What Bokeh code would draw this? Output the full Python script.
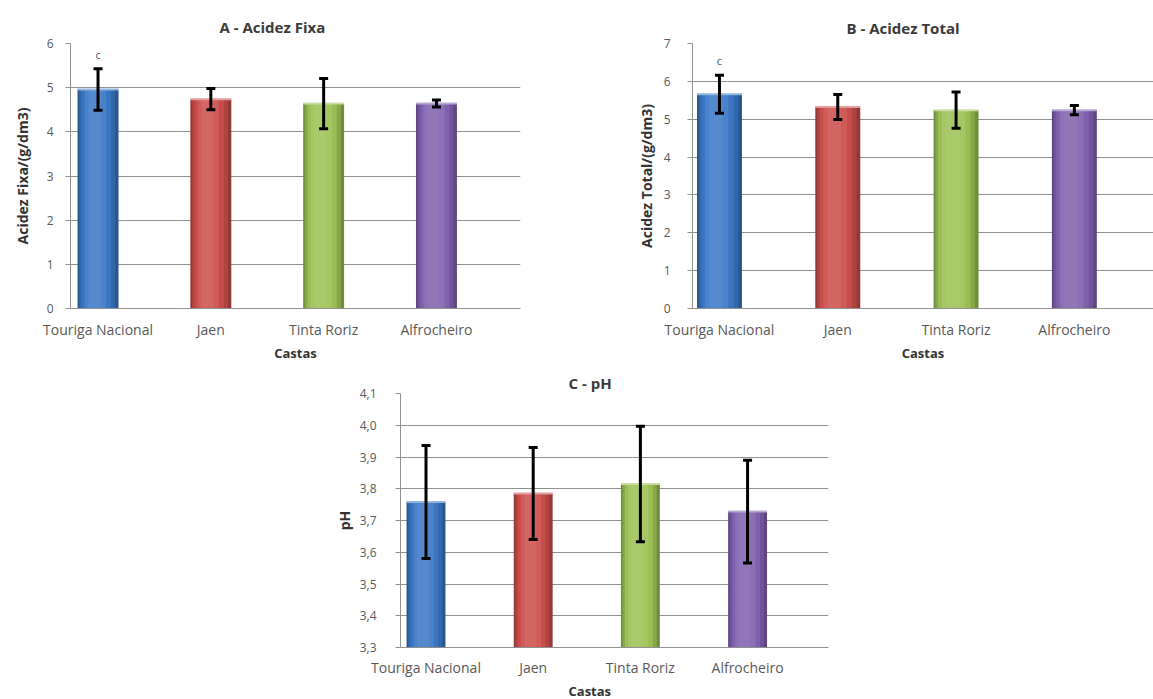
from bokeh.plotting import figure
from bokeh.models import (FixedTicker, Whisker, TeeHead, ColumnDataSource, Title,
                          CustomJSTickFormatter, Spacer)
from bokeh.layouts import row, column
from bokeh.embed import file_html
from bokeh.resources import INLINE
from bokeh.core.properties import value

# Grape varieties (castas) and their bar colours
castas = ["Touriga Nacional", "Jaen", "Tinta Roriz", "Alfrocheiro"]
bar_colors = ["#3a78c6", "#cc4e4b", "#9cc255", "#8262b0"]

# A - fixed acidity (g/dm3), mean and standard deviation
acidez_fixa = [4.96, 4.74, 4.64, 4.64]
acidez_fixa_err = [0.47, 0.24, 0.57, 0.08]
letras_fixa = ["c", "", "", ""]

# B - total acidity (g/dm3)
acidez_total = [5.66, 5.32, 5.24, 5.24]
acidez_total_err = [0.50, 0.33, 0.48, 0.12]
letras_total = ["c", "", "", ""]

# C - pH
ph = [3.758, 3.785, 3.815, 3.728]
ph_err = [0.178, 0.145, 0.182, 0.162]

ticks_fixa = [0, 1, 2, 3, 4, 5, 6]
ticks_total = [0, 1, 2, 3, 4, 5, 6, 7]
ticks_ph = [3.3, 3.4, 3.5, 3.6, 3.7, 3.8, 3.9, 4.0, 4.1]

FONT = "Open Sans"
GRID = "#909090"
TXT = "#595959"

# nested layers per bar: (relative width, centre shift, shade); drawn from
# the outer, darker layer to the inner, lighter one
LAYERS = [(1.00, 0.00, -0.28), (0.88, -0.02, -0.14), (0.72, -0.04, -0.02),
          (0.52, -0.06, 0.08), (0.30, -0.08, 0.13)]


def shade(hex_color, f):
    r, g, b = (int(hex_color[i:i + 2], 16) for i in (1, 3, 5))
    if f >= 0:
        r, g, b = (c + (255 - c) * f for c in (r, g, b))
    else:
        r, g, b = (c * (1 + f) for c in (r, g, b))
    return "#%02x%02x%02x" % tuple(int(round(c)) for c in (r, g, b))


def make_chart(title, ylabel, vals, errs, letters, y0, y1, ticks, bar_w,
               x0, x1, width, height, borders, title_offset, title_standoff,
               ylabel_standoff, ytick_standoff, comma=False, xlabel=True):
    left, right, top, bottom = borders
    p = figure(width=width, height=height, x_range=(x0, x1), y_range=(y0, y1),
               output_backend="svg", toolbar_location=None, title=title,
               min_border_left=left, min_border_right=right,
               min_border_top=top, min_border_bottom=bottom)
    p.outline_line_color = None
    p.background_fill_color = "white"
    p.border_fill_color = "white"

    p.title.align = "left"
    p.title.offset = title_offset
    p.title.standoff = title_standoff
    p.title.text_font = FONT
    p.title.text_font_size = "15px"
    p.title.text_font_style = "bold"
    p.title.text_color = "#3a3a3a"

    # bars as nested shaded layers
    idx = list(range(len(vals)))
    for rel_w, shift, f in LAYERS:
        p.vbar(x=[i + shift * bar_w for i in idx], top=vals, bottom=y0,
               width=bar_w * rel_w,
               fill_color=[shade(c, f) for c in bar_colors], line_color=None)
    # light bevel at the bar tops
    p.segment(x0=[i - bar_w / 2 for i in idx], x1=[i + bar_w / 2 for i in idx],
              y0=vals, y1=vals,
              line_color=[shade(c, 0.45) for c in bar_colors], line_width=2)

    # error bars
    src = ColumnDataSource(dict(x=idx,
                                upper=[v + e for v, e in zip(vals, errs)],
                                lower=[v - e for v, e in zip(vals, errs)]))
    p.add_layout(Whisker(base="x", upper="upper", lower="lower", source=src,
                         dimension="height", line_color="black", line_width=3,
                         level="overlay",
                         upper_head=TeeHead(size=9, line_width=3, line_color="black"),
                         lower_head=TeeHead(size=9, line_width=3, line_color="black")))

    if letters:
        p.text(x=idx, y=[v + e for v, e in zip(vals, errs)],
               text=letters, text_font=value(FONT), text_font_size="11px",
               text_color="#555555", text_align="center",
               text_baseline="bottom", y_offset=-7)

    # axes
    p.xgrid.visible = False
    p.ygrid.ticker = FixedTicker(ticks=ticks)
    p.ygrid.grid_line_color = GRID
    p.ygrid.grid_line_width = 1

    p.yaxis.ticker = FixedTicker(ticks=ticks)
    if comma:
        p.yaxis.formatter = CustomJSTickFormatter(
            code="return tick.toFixed(1).replace('.', ',');")
    p.yaxis.axis_line_color = GRID
    p.yaxis.major_tick_line_color = GRID
    p.yaxis.major_tick_out = 5
    p.yaxis.major_tick_in = 0
    p.yaxis.minor_tick_line_color = None
    p.yaxis.major_label_standoff = ytick_standoff
    p.yaxis.major_label_text_font = FONT
    p.yaxis.major_label_text_font_size = "12px"
    p.yaxis.major_label_text_color = TXT
    p.yaxis.axis_label = ylabel
    p.yaxis.axis_label_standoff = ylabel_standoff
    p.yaxis.axis_label_text_font = FONT
    p.yaxis.axis_label_text_font_size = "14px"
    p.yaxis.axis_label_text_font_style = "bold"
    p.yaxis.axis_label_text_color = "#333333"

    p.xaxis.ticker = FixedTicker(ticks=idx)
    p.xaxis.major_label_overrides = {i: c for i, c in enumerate(castas)}
    p.xaxis.axis_line_color = GRID
    p.xaxis.major_tick_line_color = None
    p.xaxis.minor_tick_line_color = None
    p.xaxis.major_tick_out = 0
    p.xaxis.major_tick_in = 0
    p.xaxis.major_label_standoff = 11
    p.xaxis.major_label_text_font = FONT
    p.xaxis.major_label_text_font_size = "14px"
    p.xaxis.major_label_text_color = TXT
    if xlabel:
        p.xaxis.axis_label = "Castas"
        p.xaxis.axis_label_standoff = 2
        p.xaxis.axis_label_text_font = FONT
        p.xaxis.axis_label_text_font_size = "13px"
        p.xaxis.axis_label_text_font_style = "bold"
        p.xaxis.axis_label_text_color = "#333333"
    return p


pa = make_chart("A - Acidez Fixa", "Acidez Fixa/(g/dm3)", acidez_fixa,
                acidez_fixa_err, letras_fixa, 0, 6, ticks_fixa, 0.363,
                -0.244, 3.745, 575, 365, (70, 55, 43, 57), 149, 14, 12, 12)

pb = make_chart("B - Acidez Total", "Acidez Total/(g/dm3)", acidez_total,
                acidez_total_err, letras_total, 0, 7, ticks_total, 0.38,
                -0.228, 3.669, 578, 365, (117, 0, 40, 57), 154, 12, 5, 17)

pc = make_chart("C - pH", "pH", ph, ph_err, None, 3.3, 4.1, ticks_ph, 0.363,
                -0.238, 3.755, 548, 334, (70, 50, 28, 52), 168, 2, 3, 19,
                comma=True, xlabel=False)
pc.xaxis.major_label_standoff = 10
pc.add_layout(Title(text="Castas", align="left", offset=168, standoff=0,
                    text_font=FONT, text_font_size="13px",
                    text_font_style="bold", text_color="#333333"), "below")

layout = column(row(pa, pb), row(Spacer(width=330, height=334), pc))

with open("out.html", "w") as f:
    f.write(file_html(layout, INLINE))
